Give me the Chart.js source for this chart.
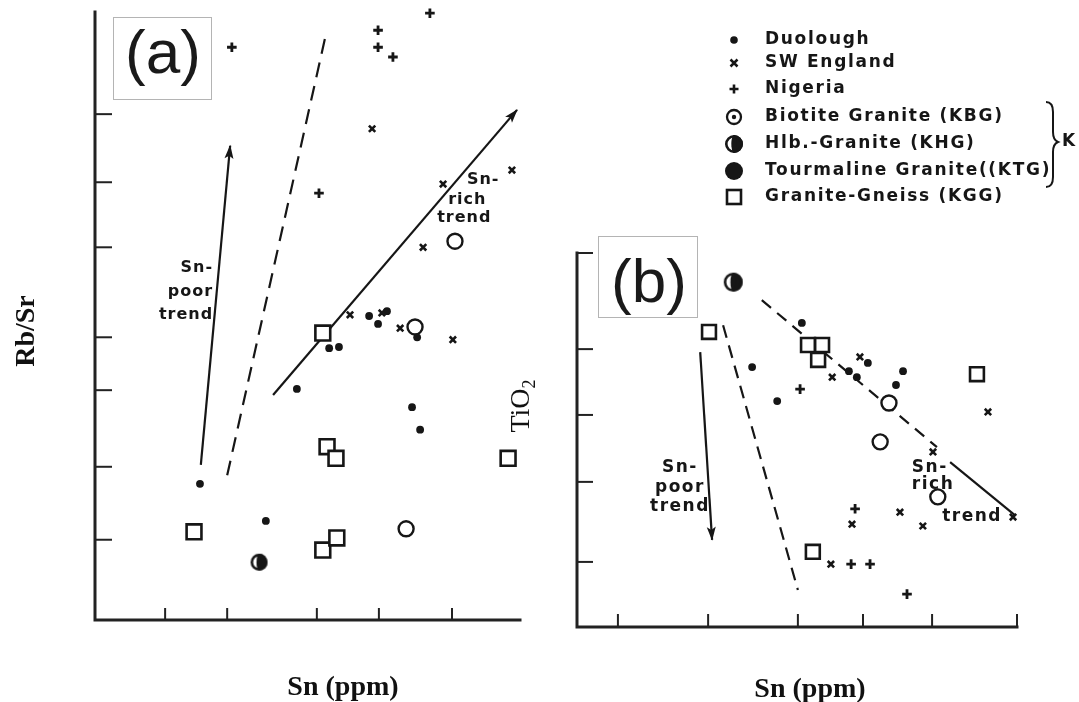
<!DOCTYPE html>
<html>
<head>
<meta charset="utf-8">
<script src="https://cdn.jsdelivr.net/npm/chart.js@4.4.0/dist/chart.umd.min.js"></script>
<style>
  html, body { margin: 0; padding: 0; background: #fff; }
  #wrap { position: relative; width: 1079px; height: 702px; overflow: hidden; }
  canvas { position: absolute; left: 0; top: 0; }
</style>
</head>
<body>
<div id="wrap">
  <canvas id="chartA" width="1079" height="702"></canvas>
  <canvas id="chartB" width="1079" height="702"></canvas>
</div>
<script>
// groups, as in the key
var groups = ["Duolough", "SW England", "Nigeria", "Biotite Granite (KBG)",
  "Hlb.-Granite (KHG)", "Tourmaline Granite((KTG)", "Granite-Gneiss (KGG)"];

// (a) Rb/Sr vs Sn, relative axis units 0-100 (no tick values printed)
var duoloughA = [[64.5,50.0],[68.7,50.8],[66.6,48.7],[55.1,44.7],[57.4,44.9],[75.8,46.5],
  [47.5,38.0],[74.6,35.0],[76.5,31.3],[24.7,22.4],[40.2,16.3]];
var englandA = [[65.2,80.8],[81.9,71.7],[98.1,74.0],[77.2,61.3],[60.0,50.2],[67.5,50.5],
  [71.8,48.0],[84.2,46.1]];
var nigeriaA = [[32.2,94.2],[66.6,97.0],[66.6,94.2],[70.1,92.6],[78.8,99.8],[52.7,70.2]];
var biotiteA = [[84.7,62.3],[75.3,48.2],[73.2,15.0]];
var hlbA = [[38.6,9.5]];
var tourmA = [];
var gneissA = [[53.6,47.2],[54.6,28.5],[56.7,26.6],[97.2,26.6],[23.3,14.5],[53.6,11.5],[56.9,13.5]];
var poorTrendA = [[24.9,25.5],[31.8,78.0]];
var divideA = [[31.1,23.8],[54.1,95.6]];
var richTrendA = [[41.9,37.0],[99.3,83.9]];
var ticksAx = [16.5, 31.1, 52.2, 66.8, 84.0];
var ticksAy = [13.2, 25.2, 37.8, 46.5, 61.3, 72.0, 83.2];

// (b) TiO2 vs Sn
var duoloughB = [[51.1,81.3],[66.1,70.6],[39.8,69.5],[61.8,68.4],[63.6,66.8],[74.1,68.4],
  [72.5,64.7],[45.5,60.4]];
var englandB = [[64.3,72.2],[58.0,66.8],[93.4,57.5],[80.9,46.8],[73.4,30.7],[62.5,27.5],
  [78.6,27.0],[99.1,29.4],[57.7,16.8]];
var nigeriaB = [[50.7,63.6],[63.2,31.6],[62.3,16.8],[66.6,16.8],[75.0,8.8]];
var biotiteB = [[70.9,59.9],[68.9,49.5],[82.0,34.8]];
var hlbB = [[35.5,92.2]];
var tourmB = [];
var gneissB = [[30.0,78.9],[52.5,75.4],[55.7,75.4],[54.8,71.4],[90.9,67.6],[53.6,20.1]];
var poorTrendB = [[28.0,73.5],[30.7,23.3]];
var divideB = [[33.2,80.7],[50.2,9.9]];
var richDashB = [[42.0,87.4],[81.8,48.1]];
var richSolidB = [[84.8,44.1],[99.5,29.9]];
var ticksBx = [9.3, 29.8, 50.2, 65.0, 80.7, 100];
var ticksBy = [17.4, 38.8, 56.7, 74.3, 100];

var INK = '#161616';

function pts(arr) { return arr.map(function (p) { return {x: p[0], y: p[1]}; }); }

function halfDisc(r) {
  var c = document.createElement('canvas');
  var s = Math.ceil(r * 2 + 4);
  c.width = s; c.height = s;
  var g = c.getContext('2d'), m = s / 2;
  g.fillStyle = '#fff';
  g.beginPath(); g.arc(m, m, r, 0, Math.PI * 2); g.fill();
  g.fillStyle = INK;
  g.beginPath(); g.arc(m, m, r, -Math.PI / 2, Math.PI / 2); g.closePath(); g.fill();
  g.beginPath(); g.ellipse(m, m, r * 0.3, r, 0, 0, Math.PI * 2); g.fill();
  g.strokeStyle = INK; g.lineWidth = 2.6;
  g.beginPath(); g.arc(m, m, r - 1.3, 0, Math.PI * 2); g.stroke();
  return c;
}

function markStyle(i, big) {
  var sq = big ? 10.5 : 9.8;
  switch (i) {
    case 0: return {pointStyle: 'circle', pointRadius: 3.9, borderWidth: 0, backgroundColor: INK};
    case 1: return {pointStyle: 'crossRot', pointRadius: 4.5, borderWidth: 2.6};
    case 2: return {pointStyle: 'cross', pointRadius: 4.8, borderWidth: 2.8};
    case 3: return {pointStyle: 'circle', pointRadius: 7.5, borderWidth: 2.4, backgroundColor: '#fff'};
    case 4: return {pointStyle: halfDisc(big ? 8.5 : 9.5), pointRadius: 9};
    case 5: return {pointStyle: 'circle', pointRadius: 8, borderWidth: 0, backgroundColor: INK};
    default: return {pointStyle: 'rect', pointRadius: sq, borderWidth: 2.6, backgroundColor: '#fff'};
  }
}

function pointSets(lists, big) {
  return lists.map(function (arr, i) {
    var st = markStyle(i, big);
    return Object.assign({
      type: 'scatter', label: groups[i], data: pts(arr), borderColor: INK,
      backgroundColor: INK, order: 1, clip: false
    }, st);
  });
}

function lineSet(arr, dash) {
  return {
    type: 'line', data: pts(arr), borderColor: INK, borderWidth: 2.2, borderDash: dash,
    pointRadius: 0, fill: false, tension: 0, order: 5, clip: false
  };
}

function P(chart, v) {
  return [chart.scales.x.getPixelForValue(v[0]), chart.scales.y.getPixelForValue(v[1])];
}

function arrowHead(ctx, a, b) {
  var ang = Math.atan2(b[1] - a[1], b[0] - a[0]), L = 13, W = 4.5;
  ctx.save();
  ctx.fillStyle = INK;
  ctx.translate(b[0], b[1]); ctx.rotate(ang);
  ctx.beginPath(); ctx.moveTo(1, 0); ctx.lineTo(-L, -W); ctx.lineTo(-L + 3, 0); ctx.lineTo(-L, W);
  ctx.closePath(); ctx.fill();
  ctx.restore();
}

function frame(chart, tx, ty, lenY, lenX) {
  var ctx = chart.ctx, x = chart.scales.x, y = chart.scales.y;
  var x0 = x.getPixelForValue(0), y0 = y.getPixelForValue(0);
  ctx.save();
  ctx.strokeStyle = '#222'; ctx.lineWidth = 3; ctx.lineCap = 'square';
  ctx.beginPath();
  ctx.moveTo(x0, y.getPixelForValue(100));
  ctx.lineTo(x0, y0);
  ctx.lineTo(x.getPixelForValue(100), y0);
  ctx.stroke();
  ctx.lineWidth = 2; ctx.lineCap = 'butt';
  ty.forEach(function (v) {
    var py = y.getPixelForValue(v);
    ctx.beginPath(); ctx.moveTo(x0, py); ctx.lineTo(x0 + lenY, py); ctx.stroke();
  });
  tx.forEach(function (v) {
    var px = x.getPixelForValue(v);
    ctx.beginPath(); ctx.moveTo(px, y0); ctx.lineTo(px, y0 - lenX); ctx.stroke();
  });
  ctx.restore();
}

function words(chart, list, font, spacing, align) {
  var ctx = chart.ctx;
  ctx.save();
  ctx.fillStyle = INK; ctx.font = font; ctx.letterSpacing = spacing;
  ctx.textAlign = align; ctx.textBaseline = 'middle';
  list.forEach(function (w) {
    var p = P(chart, [w[1], w[2]]);
    ctx.fillText(w[0], p[0], p[1]);
  });
  ctx.restore();
}

function panelBox(ctx, x, y, w, h, text, tx, ty) {
  ctx.save();
  ctx.fillStyle = '#fff'; ctx.fillRect(x, y, w, h);
  ctx.strokeStyle = '#b4b4b4'; ctx.lineWidth = 1; ctx.strokeRect(x + 0.5, y + 0.5, w, h);
  ctx.fillStyle = '#1a1a1a'; ctx.font = '62px "Liberation Sans"';
  ctx.textAlign = 'center'; ctx.textBaseline = 'alphabetic';
  ctx.fillText(text, tx, ty);
  ctx.restore();
}

var panelA = {
  id: 'panelA',
  beforeDatasetsDraw: function (chart) { frame(chart, ticksAx, ticksAy, 17, 12); },
  afterDatasetsDraw: function (chart) {
    var ctx = chart.ctx;
    arrowHead(ctx, P(chart, poorTrendA[0]), P(chart, poorTrendA[1]));
    arrowHead(ctx, P(chart, richTrendA[0]), P(chart, richTrendA[1]));
    words(chart, [['Sn-', 27.8, 57.9], ['poor', 27.8, 53.9], ['trend', 27.8, 50.2]],
      'bold 16px "DejaVu Sans"', '1px', 'right');
    words(chart, [['Sn-', 87.5, 72.4], ['rich', 83.1, 69.1], ['trend', 80.5, 66.1]],
      'bold 16px "DejaVu Sans"', '1px', 'left');
  },
  afterDraw: function (chart) {
    var ctx = chart.ctx;
    ctx.save();
    ctx.fillStyle = '#111'; ctx.font = 'bold 28px "Liberation Serif"';
    ctx.textAlign = 'center'; ctx.textBaseline = 'middle';
    ctx.fillText('Sn (ppm)', 343, 688);
    ctx.translate(27, 331); ctx.rotate(-Math.PI / 2);
    ctx.fillText('Rb/Sr', 0, 0);
    ctx.restore();
    panelBox(ctx, 113, 17, 98, 82, '(a)', 163, 73);
  }
};

function legendMark(ctx, i, x, y) {
  ctx.save();
  ctx.fillStyle = INK; ctx.strokeStyle = INK;
  if (i === 0) { ctx.beginPath(); ctx.arc(x, y, 3.8, 0, Math.PI * 2); ctx.fill(); }
  else if (i === 1) {
    ctx.lineWidth = 2.5; ctx.beginPath();
    ctx.moveTo(x - 3.5, y - 3.5); ctx.lineTo(x + 3.5, y + 3.5);
    ctx.moveTo(x + 3.5, y - 3.5); ctx.lineTo(x - 3.5, y + 3.5); ctx.stroke();
  } else if (i === 2) {
    ctx.lineWidth = 2.6; ctx.beginPath();
    ctx.moveTo(x - 4.5, y); ctx.lineTo(x + 4.5, y);
    ctx.moveTo(x, y - 4.5); ctx.lineTo(x, y + 4.5); ctx.stroke();
  } else if (i === 3) {
    ctx.lineWidth = 2.3; ctx.beginPath(); ctx.arc(x, y, 7, 0, Math.PI * 2); ctx.stroke();
    ctx.beginPath(); ctx.arc(x, y, 2.2, 0, Math.PI * 2); ctx.fill();
  } else if (i === 4) {
    var img = halfDisc(9);
    ctx.drawImage(img, x - img.width / 2, y - img.height / 2);
  } else if (i === 5) { ctx.beginPath(); ctx.arc(x, y, 9, 0, Math.PI * 2); ctx.fill(); }
  else { ctx.lineWidth = 2.6; ctx.strokeRect(x - 7, y - 7, 14, 14); }
  ctx.restore();
}

var panelB = {
  id: 'panelB',
  beforeDatasetsDraw: function (chart) {
    frame(chart, ticksBx, ticksBy, 16, 13);
  },
  afterDatasetsDraw: function (chart) {
    var ctx = chart.ctx;
    arrowHead(ctx, P(chart, poorTrendB[0]), P(chart, poorTrendB[1]));
    words(chart, [['Sn-', 23.4, 42.5], ['poor', 23.4, 37.4], ['trend', 23.4, 32.1]],
      'bold 17px "DejaVu Sans"', '1.5px', 'center');
    words(chart, [['Sn-', 76.1, 42.5], ['rich', 76.1, 38.0], ['trend', 83.0, 29.4]],
      'bold 17px "DejaVu Sans"', '1.5px', 'left');
  },
  afterDraw: function (chart) {
    var ctx = chart.ctx;
    var rows = [40, 63, 89, 117, 144, 171, 197];
    ctx.save();
    ctx.font = 'bold 17px "DejaVu Sans"'; ctx.letterSpacing = '1.7px';
    ctx.fillStyle = INK; ctx.textAlign = 'left'; ctx.textBaseline = 'middle';
    groups.forEach(function (g, i) {
      legendMark(ctx, i, 734, rows[i]);
      ctx.fillText(g, 765, rows[i]);
    });
    ctx.fillText('K', 1062, 142);
    ctx.strokeStyle = INK; ctx.lineWidth = 2;
    ctx.beginPath();
    ctx.moveTo(1046, 102);
    ctx.quadraticCurveTo(1053, 102, 1053, 112);
    ctx.lineTo(1053, 132);
    ctx.quadraticCurveTo(1053, 140, 1058, 142);
    ctx.quadraticCurveTo(1053, 144, 1053, 152);
    ctx.lineTo(1053, 177);
    ctx.quadraticCurveTo(1053, 187, 1046, 187);
    ctx.stroke();
    ctx.restore();

    ctx.save();
    ctx.fillStyle = '#111'; ctx.textBaseline = 'middle';
    ctx.font = 'bold 28px "Liberation Serif"'; ctx.textAlign = 'center';
    ctx.fillText('Sn (ppm)', 810, 690);
    ctx.translate(522, 406); ctx.rotate(-Math.PI / 2);
    ctx.font = '28px "Liberation Serif"'; ctx.textAlign = 'left';
    var w1 = ctx.measureText('TiO').width;
    ctx.font = '18px "Liberation Serif"';
    var w2 = ctx.measureText('2').width;
    ctx.font = '28px "Liberation Serif"';
    ctx.fillText('TiO', -(w1 + w2) / 2, 0);
    ctx.font = '18px "Liberation Serif"';
    ctx.fillText('2', -(w1 + w2) / 2 + w1, 8);
    ctx.restore();
    panelBox(ctx, 598, 236, 99, 81, '(b)', 649, 302);
  }
};

function baseOptions(pad) {
  return {
    responsive: false, animation: false, events: [],
    layout: {padding: pad, autoPadding: false},
    scales: {
      x: {type: 'linear', min: 0, max: 100, display: false},
      y: {type: 'linear', min: 0, max: 100, display: false}
    },
    plugins: {legend: {display: false}, tooltip: {enabled: false}}
  };
}

new Chart(document.getElementById('chartA'), {
  type: 'scatter',
  data: {
    datasets: [lineSet(poorTrendA, []), lineSet(divideA, [15, 9]), lineSet(richTrendA, [])]
      .concat(pointSets([duoloughA, englandA, nigeriaA, biotiteA, hlbA, tourmA, gneissA], true))
  },
  options: baseOptions({left: 95, top: 12, right: 559, bottom: 82}),
  plugins: [panelA]
});

new Chart(document.getElementById('chartB'), {
  type: 'scatter',
  data: {
    datasets: [lineSet(poorTrendB, []), lineSet(divideB, [13, 8]), lineSet(richDashB, [12, 8]),
      lineSet(richSolidB, [])]
      .concat(pointSets([duoloughB, englandB, nigeriaB, biotiteB, hlbB, tourmB, gneissB], false))
  },
  options: baseOptions({left: 577, top: 253, right: 62, bottom: 75}),
  plugins: [panelB]
});
</script>
</body>
</html>
